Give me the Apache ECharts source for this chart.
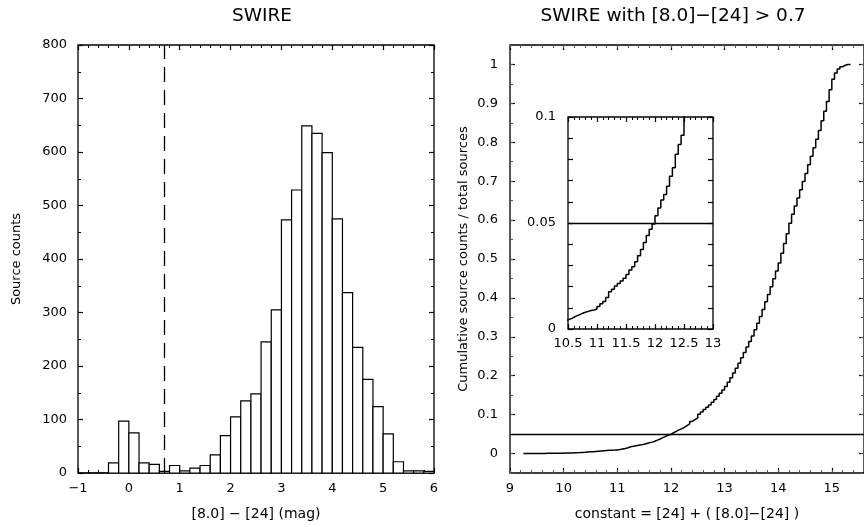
<!DOCTYPE html>
<html>
<head>
<meta charset="utf-8">
<script src="https://cdn.jsdelivr.net/npm/echarts@6/dist/echarts.min.js"></script>
<style>
html, body { margin: 0; padding: 0; background: #fff; }
#main { width: 864px; height: 527px; }
</style>
</head>
<body>
<div id="main"></div>
<script>
// left panel: histogram of [8.0]-[24], bins 0.2 mag wide
var histLeft = [-1, -0.8, -0.6, -0.4, -0.2, 0, 0.2, 0.4, 0.6, 0.8, 1, 1.2, 1.4, 1.6, 1.8, 2, 2.2, 2.4, 2.6, 2.8,
                3, 3.2, 3.4, 3.6, 3.8, 4, 4.2, 4.4, 4.6, 4.8, 5, 5.2, 5.4, 5.6, 5.8];
var histCounts = [0, 0, 0, 19, 97, 75, 19, 16, 3, 14, 4, 9, 14, 34, 70, 105, 135, 148, 245, 305,
                  473, 529, 649, 635, 599, 475, 337, 235, 175, 124, 73, 21, 4, 4, 3];
var histBinWidth = 0.2;
var colourCut = 0.7;

// right panel: cumulative fraction (step starts at cumX)
var cumX = [9.25, 9.3, 9.35, 9.4, 9.45, 9.5, 9.55, 9.6, 9.65, 9.7, 9.75, 9.8, 9.85, 9.9, 9.95,
            10, 10.05, 10.1, 10.15, 10.2, 10.25, 10.3, 10.35, 10.4, 10.45,
            10.5, 10.55, 10.6, 10.65, 10.7, 10.75, 10.8, 10.85, 10.9, 10.95,
            11, 11.05, 11.1, 11.15, 11.2, 11.25, 11.3, 11.35, 11.4, 11.45,
            11.5, 11.55, 11.6, 11.65, 11.7, 11.75, 11.8, 11.85, 11.9, 11.95,
            12, 12.05, 12.1, 12.15, 12.2, 12.25, 12.3, 12.35, 12.4, 12.45,
            12.5, 12.55, 12.6, 12.65, 12.7, 12.75, 12.8, 12.85, 12.9, 12.95,
            13, 13.05, 13.1, 13.15, 13.2, 13.25, 13.3, 13.35, 13.4, 13.45,
            13.5, 13.55, 13.6, 13.65, 13.7, 13.75, 13.8, 13.85, 13.9, 13.95,
            14, 14.05, 14.1, 14.15, 14.2, 14.25, 14.3, 14.35, 14.4, 14.45,
            14.5, 14.55, 14.6, 14.65, 14.7, 14.75, 14.8, 14.85, 14.9, 14.95,
            15, 15.05, 15.1, 15.15, 15.2, 15.25, 15.3, 15.35];
var cumFrac = [0.0000, 0.0001, 0.0001, 0.0002, 0.0002, 0.0003, 0.0003, 0.0004, 0.0005, 0.0005,
               0.0006, 0.0007, 0.0008, 0.0009, 0.0010, 0.0012, 0.0014, 0.0016, 0.0019, 0.0022,
               0.0025, 0.0029, 0.0033, 0.0038, 0.0043,
               0.0048, 0.0055, 0.0062, 0.0068, 0.0074, 0.0079, 0.0083, 0.0087, 0.0090, 0.0094,
               0.0106, 0.0119, 0.0130, 0.0148, 0.0176, 0.0188, 0.0203, 0.0215, 0.0226, 0.0239,
               0.0257, 0.0278, 0.0294, 0.0317, 0.0345, 0.0375, 0.0408, 0.0441, 0.0471, 0.0495,
               0.0534, 0.0571, 0.0608, 0.0634, 0.0673, 0.0720, 0.0761, 0.0824, 0.0870, 0.0914,
               0.101, 0.107, 0.113, 0.119, 0.125, 0.132, 0.139, 0.147, 0.155, 0.163,
               0.172, 0.183, 0.195, 0.207, 0.219, 0.232, 0.246, 0.260, 0.274, 0.288,
               0.302, 0.318, 0.335, 0.352, 0.370, 0.390, 0.409, 0.429, 0.449, 0.469,
               0.490, 0.515, 0.540, 0.565, 0.592, 0.615, 0.636, 0.657, 0.678, 0.699,
               0.720, 0.742, 0.764, 0.786, 0.808, 0.830, 0.855, 0.880, 0.905, 0.935,
               0.962, 0.978, 0.988, 0.994, 0.998, 1.000, 1.000, 1.000];
var fracLimit = 0.05;
var cumYTicks = [0, 0.1, 0.2, 0.3, 0.4, 0.5, 0.6, 0.7, 0.8, 0.9, 1];

var FONT = 'DejaVu Sans';
var INK = '#000';

var histData = histLeft.map(function (x, i) { return [x, x + histBinWidth, histCounts[i]]; });
var cumData = cumX.map(function (x, i) { return [x, cumFrac[i]]; });

// typographic minus for negative tick labels
function minusFmt(v) { return String(v).replace('-', '\u2212'); }

// shared look of a framed axis: ticks pointing inward, no split lines
function axis(o) {
    var a = {
        type: 'value',
        axisLine: { show: false, onZero: false },
        axisTick: { show: true, inside: true, length: 5, lineStyle: { color: INK, width: 1.2 } },
        minorTick: { show: false },
        splitLine: { show: false },
        axisLabel: { show: false, color: INK, fontFamily: FONT, fontSize: 13, margin: 9, formatter: minusFmt },
        nameTextStyle: { color: INK, fontFamily: FONT, fontSize: 13 }
    };
    for (var k in o) {
        if (typeof o[k] === 'object' && a[k] && !Array.isArray(o[k])) {
            for (var j in o[k]) a[k][j] = o[k][j];
        } else {
            a[k] = o[k];
        }
    }
    return a;
}

var markSolid = function (v) {
    return {
        silent: true, symbol: 'none', animation: false,
        label: { show: false },
        lineStyle: { color: INK, type: 'solid', width: 1.3 },
        data: [{ yAxis: v }]
    };
};

var option = {
    animation: false,
    backgroundColor: '#fff',
    title: [
        { text: 'SWIRE', left: 257, top: 2, textAlign: 'center',
          textStyle: { fontFamily: FONT, fontSize: 18.5, fontWeight: 'normal', color: INK } },
        { text: 'SWIRE with [8.0]\u2212[24] > 0.7', left: 668, top: 2, textAlign: 'center',
          textStyle: { fontFamily: FONT, fontSize: 18.5, fontWeight: 'normal', color: INK } }
    ],
    grid: [
        { left: 78, top: 45, width: 356, height: 428, show: true, borderColor: INK, borderWidth: 1.3 },
        { left: 510, top: 45, width: 354.6, height: 428, show: true, borderColor: INK, borderWidth: 1.3 },
        { left: 568, top: 117, width: 145, height: 212, show: true, borderColor: INK, borderWidth: 1.3 }
    ],
    xAxis: [
        axis({ gridIndex: 0, position: 'bottom', min: -1, max: 6, interval: 1,
               minorTick: { show: true, splitNumber: 5, length: 3, lineStyle: { color: INK, width: 1 } },
               axisLabel: { show: true },
               name: '[8.0] \u2212 [24] (mag)', nameLocation: 'middle', nameGap: 34,
               nameTextStyle: { fontSize: 14 } }),
        axis({ gridIndex: 0, position: 'top', min: -1, max: 6, interval: 1,
               minorTick: { show: true, splitNumber: 5, length: 3, lineStyle: { color: INK, width: 1 } } }),
        axis({ gridIndex: 1, position: 'bottom', min: 9, max: 15.6, interval: 1,
               axisLabel: { show: true, showMaxLabel: false },
               name: 'constant = [24] + ( [8.0]\u2212[24] )', nameLocation: 'middle', nameGap: 34,
               nameTextStyle: { fontSize: 14 } }),
        axis({ gridIndex: 1, position: 'bottom', min: 9, max: 15.6, interval: 0.2,
               axisTick: { length: 3, lineStyle: { width: 1 } } }),
        axis({ gridIndex: 1, position: 'top', min: 9, max: 15.6, interval: 1 }),
        axis({ gridIndex: 1, position: 'top', min: 9, max: 15.6, interval: 0.2,
               axisTick: { length: 3, lineStyle: { width: 1 } } }),
        axis({ gridIndex: 2, position: 'bottom', min: 10.5, max: 13, interval: 0.5,
               minorTick: { show: true, splitNumber: 5, length: 3, lineStyle: { color: INK, width: 1 } },
               axisLabel: { show: true, margin: 8 } }),
        axis({ gridIndex: 2, position: 'top', min: 10.5, max: 13, interval: 0.5,
               minorTick: { show: true, splitNumber: 5, length: 3, lineStyle: { color: INK, width: 1 } } })
    ],
    yAxis: [
        axis({ gridIndex: 0, position: 'left', min: 0, max: 800, interval: 100,
               minorTick: { show: true, splitNumber: 2, length: 3, lineStyle: { color: INK, width: 1 } },
               axisLabel: { show: true, margin: 11 },
               name: 'Source counts', nameLocation: 'middle', nameGap: 55 }),
        axis({ gridIndex: 0, position: 'right', min: 0, max: 800, interval: 100,
               minorTick: { show: true, splitNumber: 2, length: 3, lineStyle: { color: INK, width: 1 } } }),
        axis({ gridIndex: 1, position: 'left', min: -0.05, max: 1.05,
               axisTick: { customValues: cumYTicks },
               axisLabel: { show: true, customValues: cumYTicks, margin: 12 },
               name: 'Cumulative source counts / total sources', nameLocation: 'middle', nameGap: 40 }),
        axis({ gridIndex: 1, position: 'left', min: -0.05, max: 1.05, interval: 0.05,
               axisTick: { length: 3, lineStyle: { width: 1 } } }),
        axis({ gridIndex: 1, position: 'right', min: -0.05, max: 1.05,
               axisTick: { customValues: cumYTicks } }),
        axis({ gridIndex: 1, position: 'right', min: -0.05, max: 1.05, interval: 0.05,
               axisTick: { length: 3, lineStyle: { width: 1 } } }),
        axis({ gridIndex: 2, position: 'left', min: 0, max: 0.1, interval: 0.05,
               minorTick: { show: true, splitNumber: 5, length: 5, lineStyle: { color: INK, width: 1.2 } },
               axisLabel: { show: true, margin: 12 } }),
        axis({ gridIndex: 2, position: 'right', min: 0, max: 0.1, interval: 0.05,
               minorTick: { show: true, splitNumber: 5, length: 5, lineStyle: { color: INK, width: 1.2 } } })
    ],
    series: [
        {
            type: 'custom',
            xAxisIndex: 0, yAxisIndex: 0,
            data: histData,
            renderItem: function (params, api) {
                var p0 = api.coord([api.value(0), api.value(2)]);
                var p1 = api.coord([api.value(1), 0]);
                return {
                    type: 'rect',
                    shape: { x: p0[0], y: p0[1], width: p1[0] - p0[0], height: p1[1] - p0[1] },
                    style: { fill: '#fff', stroke: INK, lineWidth: 1.2 }
                };
            },
            markLine: {
                silent: true, symbol: 'none', animation: false,
                label: { show: false },
                lineStyle: { color: INK, type: [15, 8], width: 1.3 },
                data: [{ xAxis: colourCut }]
            }
        },
        {
            type: 'line',
            xAxisIndex: 2, yAxisIndex: 2,
            data: cumData,
            step: 'end',
            showSymbol: false, symbol: 'none',
            lineStyle: { color: INK, width: 1.5 },
            markLine: markSolid(fracLimit)
        },
        {
            type: 'line',
            xAxisIndex: 6, yAxisIndex: 6,
            data: cumData,
            step: 'end',
            showSymbol: false, symbol: 'none',
            clip: true,
            lineStyle: { color: INK, width: 1.5 },
            markLine: markSolid(fracLimit)
        }
    ]
};

var chart = echarts.init(document.getElementById('main'), null, { renderer: 'canvas' });
chart.setOption(option);
</script>
</body>
</html>
